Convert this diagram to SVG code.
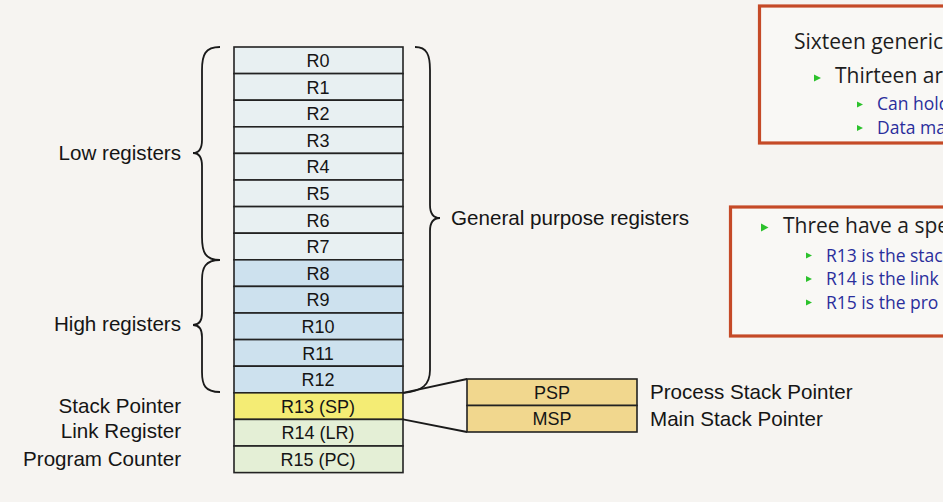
<svg xmlns="http://www.w3.org/2000/svg" width="943" height="502" viewBox="0 0 943 502">
<style>
.reg{stroke:#222;stroke-width:1.6}
.low{fill:#e8f0f2}
.high{fill:#cde1ee}
.sp{fill:#f4ec74}
.grn{fill:#e4efd6}
.alt{fill:#f1d78e}
.rt{font-family:"Liberation Sans",Arial,sans-serif;font-size:18px;fill:#151515;text-anchor:middle}
.lbl{font-family:"Liberation Sans",Arial,sans-serif;font-size:20.6px;fill:#151515}
.r{text-anchor:end}
.br{fill:none;stroke:#1a1a1a;stroke-width:1.8}
.ln{fill:none;stroke:#1a1a1a;stroke-width:1.8}
.box{fill:#f9f8f5;stroke:#c54a27;stroke-width:3.2}
.t1{font-family:"Open Sans","Noto Sans",sans-serif;font-size:21px;fill:#1d1d1d}
.t2{font-family:"Open Sans","Noto Sans",sans-serif;font-size:17.5px;fill:#2a2e9c}
.bul{fill:#2cc22c}
</style>
<rect width="943" height="502" fill="#f6f4f1"/>

<g id="brace-low"><path class="br" d="M220,47 C205,47 202,55 202,70 L202,140 C202,150 198,153 193,153 C198,153 202,156 202,166 L202,237 C202,252 205,260 220,260"/><text class="lbl r" x="181" y="160">Low registers</text></g>
<g id="brace-high"><path class="br" d="M220,260 C205,260 202,268 202,280 L202,313 C202,322 198,325 193,325 C198,325 202,328 202,337 L202,372 C202,385 205,392 220,392"/><text class="lbl r" x="181" y="331">High registers</text></g>
<g id="brace-gp"><path class="br" d="M415,47 C427,47 430,55 430,70 L430,205 C430,214 434,218 440,218 C434,218 430,222 430,231 L430,370 C430,385 422,391 404,392.8"/><text class="lbl" x="451" y="225">General purpose registers</text></g>

<g id="registers">
<g id="r0"><rect class="reg low" x="234" y="47" width="169" height="26.6"/><text class="rt" x="318" y="67">R0</text></g>
<g id="r1"><rect class="reg low" x="234" y="73.6" width="169" height="26.6"/><text class="rt" x="318" y="93.6">R1</text></g>
<g id="r2"><rect class="reg low" x="234" y="100.2" width="169" height="26.6"/><text class="rt" x="318" y="120.2">R2</text></g>
<g id="r3"><rect class="reg low" x="234" y="126.8" width="169" height="26.6"/><text class="rt" x="318" y="146.8">R3</text></g>
<g id="r4"><rect class="reg low" x="234" y="153.4" width="169" height="26.6"/><text class="rt" x="318" y="173.4">R4</text></g>
<g id="r5"><rect class="reg low" x="234" y="180" width="169" height="26.6"/><text class="rt" x="318" y="200">R5</text></g>
<g id="r6"><rect class="reg low" x="234" y="206.6" width="169" height="26.6"/><text class="rt" x="318" y="226.6">R6</text></g>
<g id="r7"><rect class="reg low" x="234" y="233.2" width="169" height="26.6"/><text class="rt" x="318" y="253.2">R7</text></g>
<g id="r8"><rect class="reg high" x="234" y="259.8" width="169" height="26.6"/><text class="rt" x="318" y="279.8">R8</text></g>
<g id="r9"><rect class="reg high" x="234" y="286.4" width="169" height="26.6"/><text class="rt" x="318" y="306.4">R9</text></g>
<g id="r10"><rect class="reg high" x="234" y="313" width="169" height="26.6"/><text class="rt" x="318" y="333">R10</text></g>
<g id="r11"><rect class="reg high" x="234" y="339.6" width="169" height="26.6"/><text class="rt" x="318" y="359.6">R11</text></g>
<g id="r12"><rect class="reg high" x="234" y="366.2" width="169" height="26.6"/><text class="rt" x="318" y="386.2">R12</text></g>
<g id="r13"><rect class="reg sp" x="234" y="392.8" width="169" height="26.6"/><text class="rt" x="318" y="412.8">R13 (SP)</text></g>
<g id="r14"><rect class="reg grn" x="234" y="419.4" width="169" height="26.6"/><text class="rt" x="318" y="439.4">R14 (LR)</text></g>
<g id="r15"><rect class="reg grn" x="234" y="446" width="169" height="26.6"/><text class="rt" x="318" y="466">R15 (PC)</text></g>
</g>

<g id="side-labels">
<text class="lbl r" x="181" y="413">Stack Pointer</text>
<text class="lbl r" x="181" y="438">Link Register</text>
<text class="lbl r" x="181" y="466">Program Counter</text>
</g>

<g id="connectors">
<path class="ln" d="M403,392.8 L467,379"/>
<path class="ln" d="M403,419.4 L467,432"/>
</g>

<g id="psp"><rect class="reg alt" x="467" y="379" width="170" height="26.5"/><text class="rt" x="552" y="398.5">PSP</text><text class="lbl" x="650" y="399">Process Stack Pointer</text></g>
<g id="msp"><rect class="reg alt" x="467" y="405.5" width="170" height="26.5"/><text class="rt" x="552" y="425">MSP</text><text class="lbl" x="650" y="426">Main Stack Pointer</text></g>

<g id="box1">
<rect class="box" x="759.5" y="6" width="200" height="137"/>
<text class="t1" x="794" y="49">Sixteen generic</text>
<polygon class="bul" points="814,74.5 821,78 814,81.5"/>
<text class="t1" x="835" y="83">Thirteen are</text>
<polygon class="bul" points="857,101.5 863,104.5 857,107.5"/>
<text class="t2" x="877" y="110">Can hold</text>
<polygon class="bul" points="857,125 863,128 857,131"/>
<text class="t2" x="877" y="134">Data ma</text>
</g>

<g id="box2">
<rect class="box" x="730.5" y="207" width="230" height="129"/>
<polygon class="bul" points="761,223.5 768.5,227.5 761,231.5"/>
<text class="t1" x="783" y="233">Three have a spe</text>
<polygon class="bul" points="806,252.5 812,255.5 806,258.5"/>
<text class="t2" x="826" y="262">R13 is the stac</text>
<polygon class="bul" points="806,276 812,279 806,282"/>
<text class="t2" x="826" y="285">R14 is the link</text>
<polygon class="bul" points="806,299.5 812,302.5 806,305.5"/>
<text class="t2" x="826" y="309">R15 is the pro</text>
</g>
</svg>
